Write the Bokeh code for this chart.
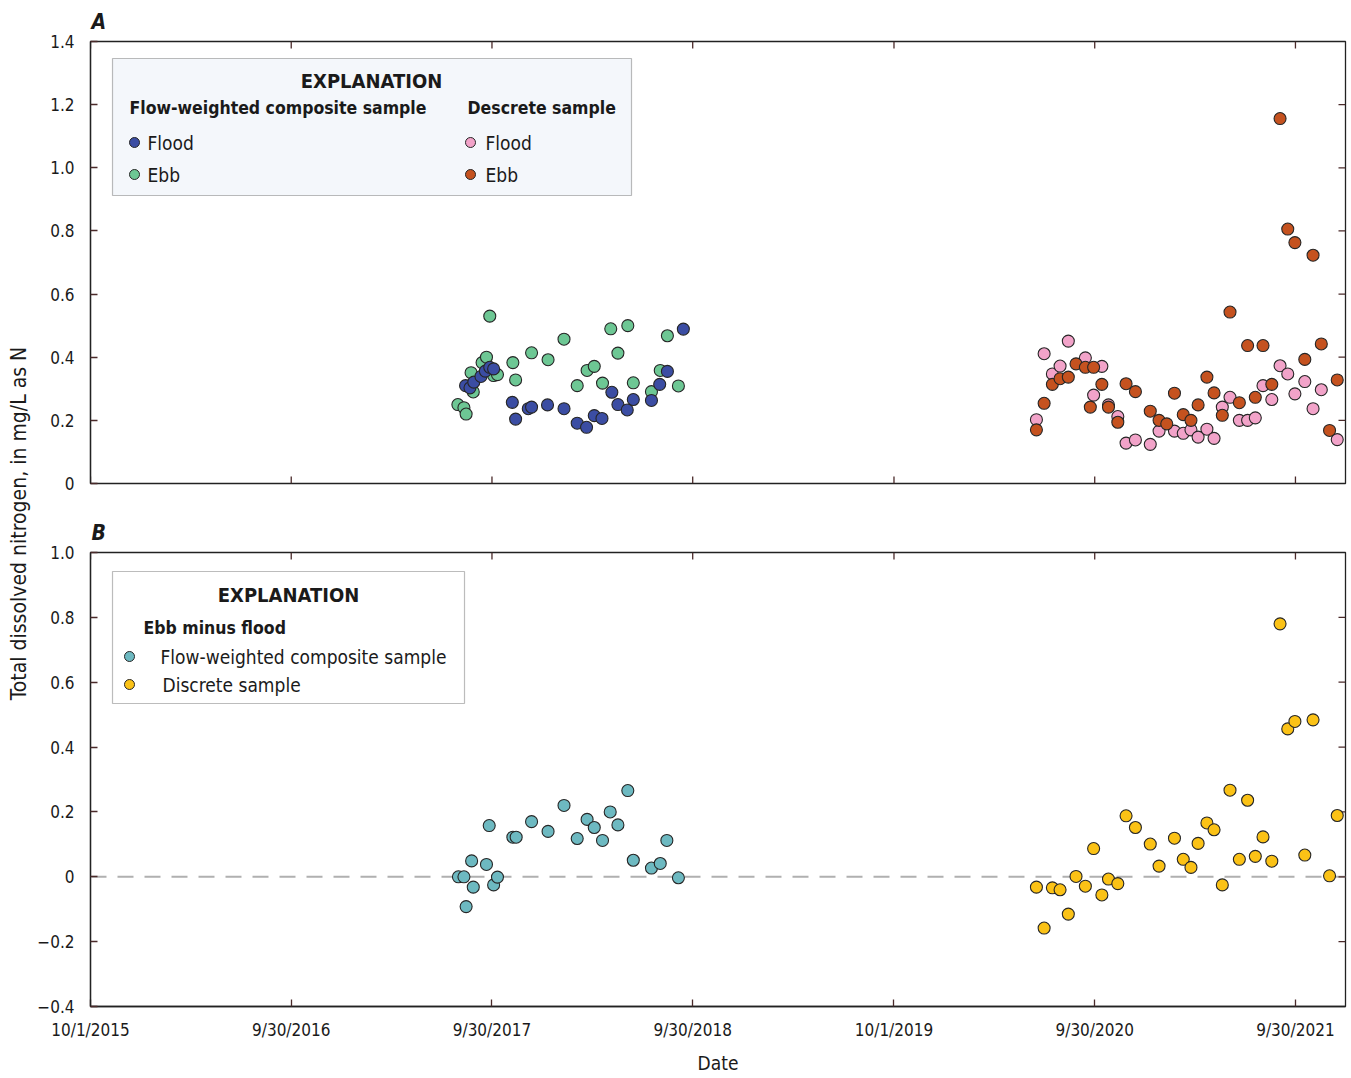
import math
import pandas as pd
from bokeh.plotting import figure
from bokeh.models import Range1d, FixedTicker, Span, BoxAnnotation, Label
from bokeh.layouts import row, column
from bokeh.embed import file_html
from bokeh.resources import INLINE

# ---------------- data ----------------
comp_flood_dates = ["2017-08-13", "2017-08-21", "2017-08-28", "2017-09-10", "2017-09-18", "2017-09-26",
                    "2017-10-03", "2017-11-06", "2017-11-12", "2017-12-05", "2017-12-11", "2018-01-09",
                    "2018-02-08", "2018-03-04", "2018-03-21", "2018-04-04", "2018-04-18", "2018-05-06",
                    "2018-05-17", "2018-06-03", "2018-06-14", "2018-07-17", "2018-08-01", "2018-08-15",
                    "2018-09-13"]
comp_flood_tdn = [0.310, 0.303, 0.321, 0.339, 0.356, 0.368,
                  0.363, 0.257, 0.204, 0.237, 0.242, 0.249,
                  0.237, 0.191, 0.178, 0.215, 0.206, 0.289,
                  0.250, 0.233, 0.266, 0.263, 0.314, 0.355,
                  0.489]

comp_ebb_dates = ["2017-07-30", "2017-08-10", "2017-08-14", "2017-08-23", "2017-08-27", "2017-09-12",
                  "2017-09-20", "2017-09-26", "2017-10-03", "2017-10-10", "2017-11-07", "2017-11-12",
                  "2017-12-11", "2018-01-10", "2018-02-08", "2018-03-04", "2018-03-22", "2018-04-04",
                  "2018-04-19", "2018-05-04", "2018-05-17", "2018-06-04", "2018-06-14", "2018-07-17",
                  "2018-08-02", "2018-08-15", "2018-09-04"]
comp_ebb_tdn = [0.250, 0.240, 0.220, 0.351, 0.290, 0.383,
                0.400, 0.530, 0.342, 0.345, 0.383, 0.328,
                0.414, 0.392, 0.457, 0.310, 0.358, 0.371,
                0.318, 0.490, 0.413, 0.500, 0.319, 0.291,
                0.358, 0.468, 0.309]

disc_flood_dates = ["2020-06-16", "2020-06-30", "2020-07-15", "2020-07-29", "2020-08-13", "2020-09-13",
                    "2020-09-28", "2020-10-13", "2020-10-25", "2020-11-11", "2020-11-26", "2020-12-13",
                    "2021-01-09", "2021-01-25", "2021-02-22", "2021-03-10", "2021-03-24", "2021-04-06",
                    "2021-04-22", "2021-05-05", "2021-05-20", "2021-06-03", "2021-06-20", "2021-07-05",
                    "2021-07-19", "2021-08-02", "2021-08-18", "2021-09-02", "2021-09-16", "2021-09-29",
                    "2021-10-17", "2021-11-01", "2021-11-16", "2021-12-15"]
disc_flood_tdn = [0.202, 0.411, 0.347, 0.372, 0.451, 0.398,
                  0.280, 0.371, 0.249, 0.212, 0.128, 0.138,
                  0.124, 0.166, 0.166, 0.159, 0.170, 0.147,
                  0.172, 0.143, 0.242, 0.273, 0.200, 0.200,
                  0.208, 0.310, 0.266, 0.373, 0.347, 0.284,
                  0.323, 0.237, 0.297, 0.139]

disc_ebb_dates = ["2020-06-16", "2020-06-30", "2020-07-15", "2020-07-29", "2020-08-13", "2020-08-27",
                  "2020-09-13", "2020-09-22", "2020-09-28", "2020-10-13", "2020-10-25", "2020-11-11",
                  "2020-11-26", "2020-12-13", "2021-01-09", "2021-01-25", "2021-02-08", "2021-02-22",
                  "2021-03-10", "2021-03-24", "2021-04-06", "2021-04-22", "2021-05-05", "2021-05-20",
                  "2021-06-03", "2021-06-20", "2021-07-05", "2021-07-19", "2021-08-02", "2021-08-18",
                  "2021-09-02", "2021-09-16", "2021-09-29", "2021-10-17", "2021-11-01", "2021-11-16",
                  "2021-12-01", "2021-12-15"]
disc_ebb_tdn = [0.170, 0.254, 0.314, 0.332, 0.337, 0.379,
                0.368, 0.242, 0.368, 0.314, 0.242, 0.194,
                0.316, 0.291, 0.229, 0.200, 0.189, 0.286,
                0.218, 0.200, 0.249, 0.337, 0.287, 0.216,
                0.543, 0.256, 0.437, 0.273, 0.437, 0.314,
                1.156, 0.806, 0.763, 0.393, 0.723, 0.442,
                0.168, 0.328]

diff_comp_dates = ["2017-07-31", "2017-08-10", "2017-08-14", "2017-08-24", "2017-08-27", "2017-09-20",
                   "2017-09-25", "2017-10-03", "2017-10-10", "2017-11-07", "2017-11-13", "2017-12-11",
                   "2018-01-10", "2018-02-08", "2018-03-04", "2018-03-22", "2018-04-04", "2018-04-19",
                   "2018-05-03", "2018-05-17", "2018-06-04", "2018-06-14", "2018-07-17", "2018-08-02",
                   "2018-08-14", "2018-09-04"]
diff_comp_vals = [0.000, 0.000, -0.092, 0.049, -0.032, 0.038,
                  0.158, -0.025, -0.001, 0.122, 0.122, 0.170,
                  0.140, 0.220, 0.118, 0.177, 0.152, 0.112,
                  0.200, 0.160, 0.266, 0.051, 0.027, 0.041,
                  0.112, -0.003]

diff_disc_dates = ["2020-06-16", "2020-06-30", "2020-07-15", "2020-07-29", "2020-08-13", "2020-08-27",
                   "2020-09-13", "2020-09-28", "2020-10-13", "2020-10-25", "2020-11-11", "2020-11-26",
                   "2020-12-13", "2021-01-09", "2021-01-25", "2021-02-22", "2021-03-10", "2021-03-24",
                   "2021-04-06", "2021-04-22", "2021-05-05", "2021-05-20", "2021-06-03", "2021-06-20",
                   "2021-07-05", "2021-07-19", "2021-08-02", "2021-08-18", "2021-09-02", "2021-09-16",
                   "2021-09-29", "2021-10-17", "2021-11-01", "2021-12-01", "2021-12-15"]
diff_disc_vals = [-0.032, -0.158, -0.034, -0.040, -0.115, 0.001,
                  -0.029, 0.087, -0.056, -0.007, -0.021, 0.188,
                  0.152, 0.101, 0.033, 0.119, 0.054, 0.029,
                  0.103, 0.166, 0.145, -0.025, 0.267, 0.054,
                  0.236, 0.063, 0.123, 0.048, 0.780, 0.456,
                  0.479, 0.067, 0.484, 0.003, 0.189]

x_tick_dates = ["2015-10-01", "2016-09-30", "2017-09-30", "2018-09-30", "2019-10-01", "2020-09-30", "2021-09-30"]
x_tick_labels = ["10/1/2015", "9/30/2016", "9/30/2017", "9/30/2018", "10/1/2019", "9/30/2020", "9/30/2021"]
yA_ticks = [0, 0.2, 0.4, 0.6, 0.8, 1.0, 1.2, 1.4]
yA_labels = ["0", "0.2", "0.4", "0.6", "0.8", "1.0", "1.2", "1.4"]
yB_ticks = [-0.4, -0.2, 0, 0.2, 0.4, 0.6, 0.8, 1.0]
yB_labels = ["\u22120.4", "\u22120.2", "0", "0.2", "0.4", "0.6", "0.8", "1.0"]

# ---------------- styling ----------------
FONT = "'DejaVu Sans Condensed', 'Roboto Condensed', 'Liberation Sans Narrow', Roboto, sans-serif"
C_FLOOD_C = "#3B4DA3"
C_EBB_C = "#6DC794"
C_FLOOD_D = "#F2A3C9"
C_EBB_D = "#C5521F"
C_DIFF_C = "#6DB9C1"
C_DIFF_D = "#FBC216"
EDGE = "#262626"
TICKC = "#4a2a2a"
TXT = "#1a1a1a"
MS = 12
TICK_LEN = 7


def ms(s):
    return int(pd.Timestamp(s).value // 10**6)


X0 = ms("2015-10-01")
X1 = X0 + 2282 * 86400000
FW = 1255
FRAME_L = 90
A_TOP, A_H = 41, 442
B_TOP, B_H = 552, 454
STRIP_W = 34


def ax_x(px):
    return X0 + (px - FRAME_L) / FW * (X1 - X0)


def ay_A(py):
    return 1.4 - (py - A_TOP) / A_H * 1.4


def ay_B(py):
    return 1.0 - (py - B_TOP) / B_H * 1.4


tick_ms = [ms(d) for d in x_tick_dates]


def make_fig(ylo, yhi, fh, top_border, bottom_border, yticks, ylabels, show_x, panel):
    p = figure(frame_width=FW, frame_height=fh, x_axis_type="datetime",
               x_range=Range1d(X0, X1), y_range=Range1d(ylo, yhi),
               toolbar_location=None, output_backend="svg",
               min_border_left=FRAME_L - STRIP_W, min_border_right=4,
               min_border_top=top_border, min_border_bottom=bottom_border)
    p.grid.visible = False
    p.outline_line_color = "#222222"
    p.outline_line_width = 1.3
    p.background_fill_color = "white"
    p.border_fill_color = "white"

    p.title.text = panel
    p.title.align = "left"
    p.title.text_font = FONT
    p.title.text_font_size = "21px"
    p.title.text_font_style = "bold italic"
    p.title.text_color = TXT
    p.title.offset = 1
    p.title.standoff = 15

    axes = [p.yaxis[0]]
    ya = p.yaxis[0]
    ya.ticker = FixedTicker(ticks=yticks)
    ya.major_label_overrides = {t: l for t, l in zip(yticks, ylabels)}
    ya.major_label_standoff = 16
    xa = p.xaxis[0]
    if show_x:
        xa.ticker = FixedTicker(ticks=tick_ms)
        xa.major_label_overrides = {t: l for t, l in zip(tick_ms, x_tick_labels)}
        xa.major_label_standoff = 13
        xa.axis_label = "Date"
        xa.axis_label_text_font = FONT
        xa.axis_label_text_font_size = "19px"
        xa.axis_label_text_font_style = "normal"
        xa.axis_label_text_color = TXT
        xa.axis_label_standoff = 9
        axes.append(xa)
    else:
        xa.visible = False
    for ax in axes:
        ax.major_tick_in = TICK_LEN
        ax.major_tick_out = 0
        ax.minor_tick_line_color = None
        ax.major_tick_line_color = TICKC
        ax.major_tick_line_width = 1.3
        ax.axis_line_color = "#222222"
        ax.axis_line_width = 1.3
        ax.major_label_text_font = FONT
        ax.major_label_text_font_size = "17px"
        ax.major_label_text_color = TXT

    # inward ticks on the remaining frame sides, derived from the tick arrays
    dx = TICK_LEN / FW * (X1 - X0)
    dy = TICK_LEN / fh * (yhi - ylo)
    inner_y = [t for t in yticks if ylo < t < yhi]
    p.segment(x0=tick_ms, y0=[yhi] * len(tick_ms), x1=tick_ms, y1=[yhi - dy] * len(tick_ms),
              line_color=TICKC, line_width=1.3)
    p.segment(x0=[X1] * len(inner_y), y0=inner_y, x1=[X1 - dx] * len(inner_y), y1=inner_y,
              line_color=TICKC, line_width=1.3)
    if not show_x:
        p.segment(x0=tick_ms, y0=[ylo] * len(tick_ms), x1=tick_ms, y1=[ylo + dy] * len(tick_ms),
                  line_color=TICKC, line_width=1.3)
    return p


def lab(p, x, y, text, size="19px", style="normal", align="left"):
    p.add_layout(Label(x=x, y=y, text=text, text_align=align, text_baseline="middle",
                       text_font=FONT, text_font_size=size, text_font_style=style, text_color=TXT))


# ---------------- panel A ----------------
A_BOT = 10
pA = make_fig(0, 1.4, A_H, A_TOP, A_BOT, yA_ticks, yA_labels, False, "A")

pA.scatter(pd.to_datetime(comp_ebb_dates), comp_ebb_tdn, size=MS, fill_color=C_EBB_C, line_color=EDGE, line_width=1.1)
pA.scatter(pd.to_datetime(comp_flood_dates), comp_flood_tdn, size=MS, fill_color=C_FLOOD_C, line_color=EDGE, line_width=1.1)
pA.scatter(pd.to_datetime(disc_flood_dates), disc_flood_tdn, size=MS, fill_color=C_FLOOD_D, line_color=EDGE, line_width=1.1)
pA.scatter(pd.to_datetime(disc_ebb_dates), disc_ebb_tdn, size=MS, fill_color=C_EBB_D, line_color=EDGE, line_width=1.1)

pA.add_layout(BoxAnnotation(left=ax_x(112), right=ax_x(631), top=ay_A(58), bottom=ay_A(195),
                            fill_color="#F4F7FB", fill_alpha=1, line_color="#222222", line_width=1.2, level="underlay"))
lab(pA, ax_x(371), ay_A(80), "EXPLANATION", "20px", "bold", "center")
lab(pA, ax_x(129), ay_A(107), "Flow-weighted composite sample", "17.5px", "bold")
lab(pA, ax_x(467), ay_A(107), "Descrete sample", "17.5px", "bold")
pA.scatter([ax_x(134), ax_x(134), ax_x(470), ax_x(470)], [ay_A(142), ay_A(174), ay_A(142), ay_A(174)],
           size=10, fill_color=[C_FLOOD_C, C_EBB_C, C_FLOOD_D, C_EBB_D], line_color=EDGE, line_width=1)
lab(pA, ax_x(147), ay_A(142), "Flood")
lab(pA, ax_x(147), ay_A(174), "Ebb")
lab(pA, ax_x(485), ay_A(142), "Flood")
lab(pA, ax_x(485), ay_A(174), "Ebb")

# ---------------- panel B ----------------
B_TOPB = B_TOP - (A_TOP + A_H + A_BOT)
B_BOT = 66
pB = make_fig(-0.4, 1.0, B_H, B_TOPB, B_BOT, yB_ticks, yB_labels, True, "B")
pB.add_layout(Span(location=0, dimension="width", line_color="#B0B0B0", line_width=2, line_dash="16 11", level="underlay"))
pB.scatter(pd.to_datetime(diff_comp_dates), diff_comp_vals, size=MS, fill_color=C_DIFF_C, line_color=EDGE, line_width=1.1)
pB.scatter(pd.to_datetime(diff_disc_dates), diff_disc_vals, size=MS, fill_color=C_DIFF_D, line_color=EDGE, line_width=1.1)

pB.add_layout(BoxAnnotation(left=ax_x(112), right=ax_x(464), top=ay_B(571), bottom=ay_B(703),
                            fill_color="white", fill_alpha=1, line_color="#222222", line_width=1.2, level="underlay"))
lab(pB, ax_x(288), ay_B(594), "EXPLANATION", "20px", "bold", "center")
lab(pB, ax_x(143), ay_B(627), "Ebb minus flood", "17.5px", "bold")
pB.scatter([ax_x(129), ax_x(129)], [ay_B(656), ay_B(684)], size=10,
           fill_color=[C_DIFF_C, C_DIFF_D], line_color=EDGE, line_width=1)
lab(pB, ax_x(160), ay_B(656), "Flow-weighted composite sample")
lab(pB, ax_x(162), ay_B(684), "Discrete sample")

# ---------------- y-axis title strip ----------------
H_TOTAL = (A_TOP + A_H + A_BOT) + (B_TOPB + B_H + B_BOT)
pL = figure(width=STRIP_W, height=H_TOTAL, x_range=Range1d(0, STRIP_W), y_range=Range1d(0, H_TOTAL),
            toolbar_location=None, output_backend="svg", min_border=0,
            x_axis_location=None, y_axis_location=None)
pL.grid.visible = False
pL.outline_line_color = None
pL.add_layout(Label(x=18, y=H_TOTAL - 523, text="Total dissolved nitrogen, in mg/L as N",
                    angle=math.pi / 2, text_align="center", text_baseline="middle",
                    text_font=FONT, text_font_size="21px", text_color=TXT))

layout = row(pL, column(pA, pB, spacing=0), spacing=0)
open("out.html", "w").write(file_html(layout, INLINE))
